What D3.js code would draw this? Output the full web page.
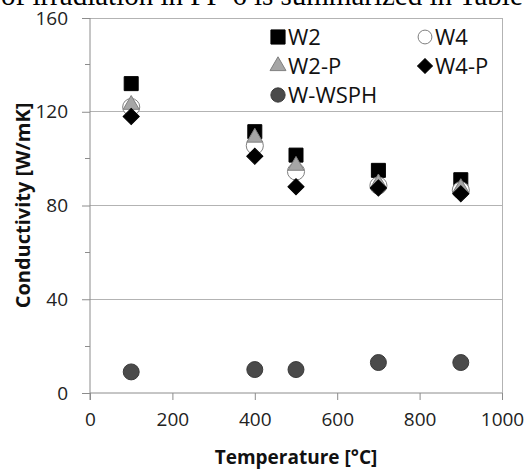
<!DOCTYPE html>
<html><head><meta charset="utf-8">
<script src="https://cdn.jsdelivr.net/npm/d3@7"></script>
<style>body{margin:0;background:#fff}svg{display:block}</style>
</head><body>
<svg id="c" width="528" height="471"></svg>
<script>
const temps = [100, 400, 500, 700, 900];
const w2 = [132, 111.5, 101.5, 95, 91];
const w4 = [122, 105.5, 94.5, 88.5, 86.5];
const w2p = [123, 109, 97, 89.5, 87.5];
const w4p = [118, 101, 88, 87.5, 85];
const wwsph = [9, 10, 10, 13, 13];
const seriesNames = ["W2", "W4", "W2-P", "W4-P", "W-WSPH"];
const xTicks = [0, 200, 400, 600, 800, 1000];
const yTicks = [0, 40, 80, 120, 160];
const yMinorTicks = [20, 60, 100, 140];

const svg = d3.select("#c");
const L = 90, R = 502, T = 18, B = 393;
const x = d3.scaleLinear().domain([0, 1000]).range([L, R]);
const y = d3.scaleLinear().domain([0, 160]).range([B, T]);
const font = "'Open Sans', sans-serif";

// top cropped serif text
svg.append("text").attr("x", 1).attr("y", 5)
  .attr("font-family", "'Liberation Serif', serif").attr("font-size", 29)
  .attr("fill", "#000").text("of irradiation in FP-6 is summarized in Table");

// gridlines
svg.append("g").selectAll("line").data(yTicks.filter(d => d > 0)).join("line")
  .attr("x1", L).attr("x2", R).attr("y1", d => y(d)).attr("y2", d => y(d))
  .attr("stroke", "#b3b3b3").attr("stroke-width", 1).attr("shape-rendering", "crispEdges");
// right border
svg.append("line").attr("x1", R).attr("x2", R).attr("y1", T).attr("y2", B)
  .attr("stroke", "#b3b3b3").attr("shape-rendering", "crispEdges");

// y axis
const yAx = svg.append("g").attr("transform", `translate(${L},0)`)
  .call(d3.axisLeft(y).tickValues(yTicks).tickSize(8).tickPadding(14));
yAx.select(".domain").attr("stroke", "#8c8c8c").attr("d", `M0,${T}V${B + 7}`);
yAx.selectAll(".tick line").attr("stroke", "#8c8c8c");
yAx.selectAll("text").attr("font-family", font).attr("font-size", 19).attr("fill", "#222");
svg.append("g").selectAll("line").data(yMinorTicks).join("line")
  .attr("x1", L - 5).attr("x2", L).attr("y1", d => y(d)).attr("y2", d => y(d))
  .attr("stroke", "#8c8c8c").attr("shape-rendering", "crispEdges");

// x axis
const xAx = svg.append("g").attr("transform", `translate(0,${B})`)
  .call(d3.axisBottom(x).tickValues(xTicks).tickFormat(d3.format("d")).tickSize(7).tickPadding(13));
xAx.select(".domain").attr("stroke", "#8c8c8c").attr("d", `M${L},0H${R}`);
xAx.selectAll(".tick line").attr("stroke", "#8c8c8c");
xAx.selectAll("text").attr("font-family", font).attr("font-size", 19).attr("fill", "#222");

// axis titles
svg.append("text").attr("x", (L + R) / 2).attr("y", 464).attr("text-anchor", "middle")
  .attr("font-family", font).attr("font-weight", "bold").attr("font-size", 19)
  .attr("fill", "#111").text("Temperature [°C]");
svg.append("text").attr("transform", `translate(30,${(T + B) / 2}) rotate(-90)`)
  .attr("text-anchor", "middle").attr("font-family", font).attr("font-weight", "bold")
  .attr("font-size", 20).attr("fill", "#111").text("Conductivity [W/mK]");

// series styles
const styles = {
  "W2": {sym: d3.symbolSquare, size: 196, rot: 0, fill: "#000", stroke: "#000"},
  "W4": {sym: d3.symbolCircle, size: 230, rot: 0, fill: "#fff", stroke: "#7f7f7f"},
  "W2-P": {sym: d3.symbolTriangle, size: 110, rot: 0, fill: "#a6a6a6", stroke: "#808080"},
  "W4-P": {sym: d3.symbolSquare, size: 130, rot: 45, fill: "#000", stroke: "#000"},
  "W-WSPH": {sym: d3.symbolCircle, size: 200, rot: 0, fill: "#4a4a4a", stroke: "#3a3a3a"}
};
const seriesVals = {"W2": w2, "W4": w4, "W2-P": w2p, "W4-P": w4p, "W-WSPH": wwsph};

seriesNames.forEach(name => {
  const st = styles[name];
  svg.append("g").selectAll("path").data(seriesVals[name]).join("path")
    .attr("d", d3.symbol().type(st.sym).size(st.size))
    .attr("transform", (d, i) => `translate(${x(temps[i])},${y(d)}) rotate(${st.rot})`)
    .attr("fill", st.fill).attr("stroke", st.stroke).attr("stroke-width", 1);
});

// legend
const legPos = [[278, 37], [425, 37], [278, 66], [425, 66], [278, 95]];
const legSize = {"W2": 200, "W4": 150, "W2-P": 110, "W4-P": 110, "W-WSPH": 160};
seriesNames.forEach((name, i) => {
  const st = styles[name];
  const [lx, ly] = legPos[i];
  svg.append("path").attr("d", d3.symbol().type(st.sym).size(legSize[name]))
    .attr("transform", `translate(${lx},${ly}) rotate(${st.rot})`)
    .attr("fill", st.fill).attr("stroke", st.stroke);
  svg.append("text").attr("x", lx + 10).attr("y", ly).attr("dy", "0.35em")
    .attr("font-family", font).attr("font-size", 22).attr("fill", "#111").text(name);
});
</script>
</body></html>
